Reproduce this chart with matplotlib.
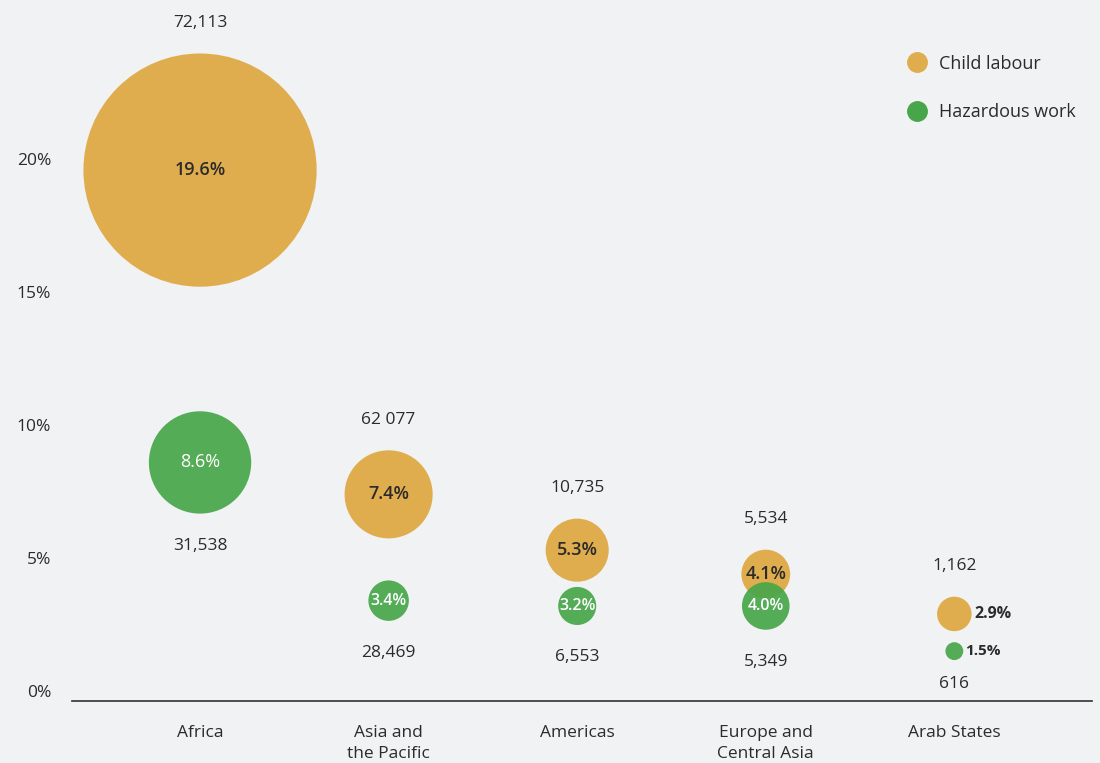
import matplotlib.pyplot as plt
from matplotlib.lines import Line2D
import numpy as np

# Data
regions = ["Africa", "Asia and\nthe Pacific", "Americas", "Europe and\nCentral Asia", "Arab States"]
child_pct = [19.6, 7.4, 5.3, 4.1, 2.9]
child_num = ["72,113", "62 077", "10,735", "5,534", "1,162"]
hazard_pct = [8.6, 3.4, 3.2, 4.0, 1.5]
hazard_num = ["31,538", "28,469", "6,553", "5,349", "616"]

orange = "#e0ad4e"
green = "#48a64a"
bg = "#f1f2f4"
txt = "#2b2b2b"

plt.rcParams["font.family"] = ["Open Sans", "DejaVu Sans"]

fig = plt.figure(figsize=(11, 7.63), dpi=100, facecolor=bg)
ax = fig.add_axes([72 / 1100, 62 / 763, 1020 / 1100, 701 / 763], facecolor=bg)

x = np.arange(len(regions))
# small vertical nudge so the overlapping Europe bubbles stay readable
nudge = np.zeros(len(regions))
nudge[3] = -0.8
hy = np.array(hazard_pct) + nudge
cy = np.array(child_pct) + np.where(nudge < 0, 0.3, 0)

px_per_pct = 11.9  # bubble diameter in pixels per percent


def radius_pt(p):
    return px_per_pct * p * 0.72 / 2


ax.scatter(x, cy, s=[(2 * radius_pt(p)) ** 2 for p in child_pct],
           color=orange, edgecolors="none", zorder=2)
ax.scatter(x, hy, s=[(2 * radius_pt(p)) ** 2 for p in hazard_pct],
           color=green, edgecolors="none", alpha=0.92, zorder=3)

for i in range(len(regions)):
    # numbers above / below bubbles
    rc = radius_pt(child_pct[i])
    ax.annotate(child_num[i], (x[i], cy[i]), xytext=(0, rc + 22),
                textcoords="offset points", ha="center", va="center",
                fontsize=12.5, color=txt)
    rh = radius_pt(hazard_pct[i])
    off = 23 if i < 4 else 17
    ax.annotate(hazard_num[i], (x[i], hy[i]), xytext=(0, -(rh + off)),
                textcoords="offset points", ha="center", va="center",
                fontsize=12.5, color=txt)
    # percentage labels
    if i < 4:
        ax.annotate(f"{child_pct[i]}%", (x[i], cy[i]), ha="center", va="center",
                    fontsize=13, fontweight="semibold", color=txt, zorder=4)
        ax.annotate(f"{hazard_pct[i]}%", (x[i], hy[i]), ha="center", va="center",
                    fontsize=13 if hazard_pct[i] > 5 else 11.5,
                    fontweight="normal" if hazard_pct[i] > 5 else "semibold",
                    color="white", zorder=4)
    else:
        ax.annotate(f"{child_pct[i]}%", (x[i], cy[i]), xytext=(rc + 2, 0),
                    textcoords="offset points", ha="left", va="center",
                    fontsize=11.5, fontweight="bold", color=txt)
        ax.annotate(f"{hazard_pct[i]}%", (x[i], hy[i]), xytext=(rh + 1, 0),
                    textcoords="offset points", ha="left", va="center",
                    fontsize=11, fontweight="bold", color=txt)

ax.set_xlim(-0.679, 4.73)
ax.set_ylim(-0.376, 26.0)
ax.set_xticks(x)
ax.set_xticklabels(regions, fontsize=12.5, color=txt, linespacing=1.45)
ax.set_yticks([0, 5, 10, 15, 20])
ax.set_yticklabels(["0%", "5%", "10%", "15%", "20%"], fontsize=12.5, color=txt)
ax.tick_params(axis="both", length=0)
ax.tick_params(axis="y", pad=15)
ax.tick_params(axis="x", pad=17)
for s in ["top", "right", "left"]:
    ax.spines[s].set_visible(False)
ax.spines["bottom"].set_color("#333333")
ax.spines["bottom"].set_linewidth(1.2)

handles = [Line2D([], [], marker="o", linestyle="none", markersize=14, color=orange,
                  label="Child labour"),
           Line2D([], [], marker="o", linestyle="none", markersize=14, color=green,
                  label="Hazardous work")]
ax.legend(handles=handles, loc="upper left", bbox_to_anchor=(0.804, 0.945),
          frameon=False, fontsize=13, labelspacing=1.7, handlelength=1.0,
          handletextpad=0.71, borderpad=0.4, labelcolor=txt)

fig.savefig("out.png", dpi=100, facecolor=bg)
